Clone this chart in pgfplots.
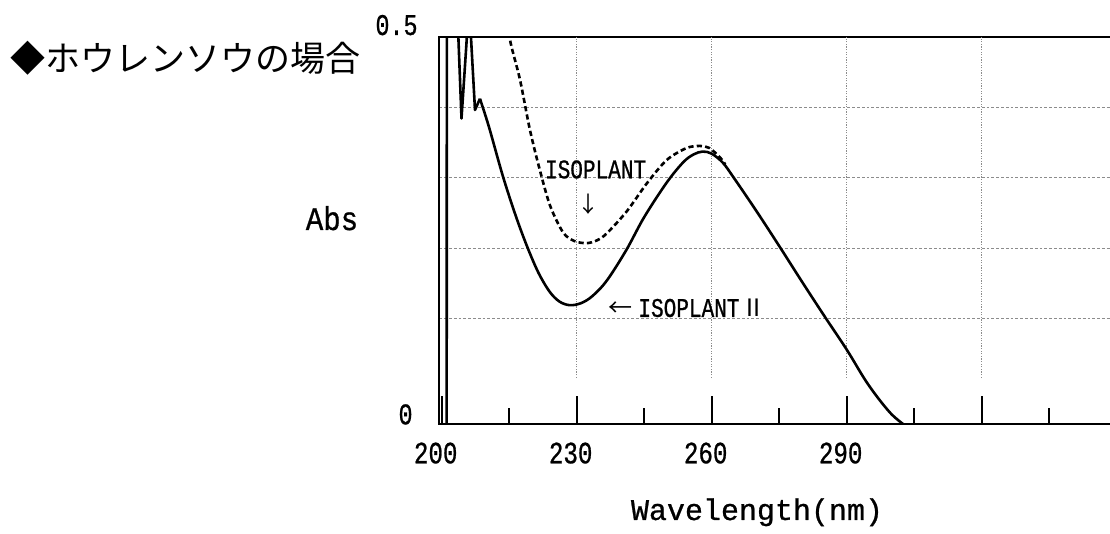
\documentclass[border=0pt]{standalone}
\usepackage{fontspec}
\usepackage{pgfplots}
\pgfplotsset{compat=1.18}
\setmainfont{Liberation Mono}
\newfontfamily\cjkfont{Noto Sans CJK JP}
\newfontfamily\labfont[FakeBold=0.8]{Liberation Mono}
\newfontfamily\absfont[FakeBold=0.8,FakeStretch=0.88]{Liberation Mono}
\newfontfamily\tickfont[FakeStretch=0.78,FakeBold=0.8]{Liberation Mono}

\begin{document}
\begin{tikzpicture}
\useasboundingbox (-219.75pt,-54.85pt) rectangle (335.25pt,212.15pt);
\begin{axis}[
  at={(0pt,0pt)}, anchor=south west,
  scale only axis,
  width=336.8pt, height=193.8pt,
  xmin=199.51, xmax=349.2, ymin=-0.05, ymax=0.5,
  axis line style={line width=1pt},
  xtick={200,230,260,290,320},
  xticklabels={200,230,260,290,},
  minor xtick={215,245,275,305,335},
  xtick pos=left,
  tick align=inside,
  major tick length=14pt,
  minor tick length=8pt,
  xtick style={black, line width=1pt},
  xticklabel style={font=\tickfont\fontsize{15.5pt}{15.5pt}\selectfont, anchor=center, yshift=-14.4pt, xshift=-3pt},
  ytick={0.1,0.2,0.3,0.4},
  yticklabels={},
  ytick style={draw=none},
  ymajorgrids,
  y grid style={black!45, line width=0.5pt, dash pattern=on 1.4pt off 1pt},
  clip=true,
]
\draw[black!45, line width=0.6pt, dash pattern=on 0.6pt off 0.7pt] (axis cs:230,0.016) -- (axis cs:230,0.5);
\draw[black!45, line width=0.6pt, dash pattern=on 0.6pt off 0.7pt] (axis cs:260,0.016) -- (axis cs:260,0.5);
\draw[black!45, line width=0.6pt, dash pattern=on 0.6pt off 0.7pt] (axis cs:290,0.016) -- (axis cs:290,0.5);
\draw[black!45, line width=0.6pt, dash pattern=on 0.6pt off 0.7pt] (axis cs:320,0.016) -- (axis cs:320,0.5);

% ISOPLANT II (solid): sharp part near 200 nm
\addplot[black, line width=1.3pt, line join=round] coordinates {
(201.1,-0.06) (201.15,0.56) (203.5,0.56) (203.7,0.5) (204.4,0.384) (205.6,0.5)
(205.8,0.56) (206.3,0.56) (206.5,0.5) (207.4,0.396) (208.5,0.412)
};
% ISOPLANT II (solid): smooth part
\addplot[black, line width=1.3pt, smooth, tension=0.55] coordinates {
(208.5,0.412) (210.5,0.372) (213.6,0.302) (216.5,0.245) (219,0.202) (221.5,0.165)
(224,0.138) (226.2,0.124) (228.5,0.119) (231,0.122) (233.5,0.132) (236.7,0.154)
(241,0.197) (245,0.244) (250,0.293) (253.7,0.322) (256,0.333) (258,0.337)
(260,0.334) (262.5,0.321) (265,0.299) (270,0.252) (275,0.203) (280,0.153)
(285,0.104) (290,0.056) (294,0.014) (297,-0.013) (300,-0.036) (302.6,-0.05)
};
% ISOPLANT (dashed)
\addplot[black, line width=1.3pt, dash pattern=on 2.6pt off 1.6pt, smooth, tension=0.5] coordinates {
(214.9,0.53) (215.2,0.495) (217.4,0.439) (219.6,0.368) (221.8,0.311) (224.1,0.260)
(227,0.222) (229.5,0.210) (232.2,0.207) (234.5,0.211) (236.7,0.221) (241.1,0.252)
(245.6,0.292) (250,0.325) (254.4,0.342) (257.4,0.345) (259.5,0.342) (261.8,0.329)
(263,0.319)
};

\node[anchor=base, inner sep=0pt, font=\tickfont\fontsize{13.5pt}{13.5pt}\selectfont] at (axis cs:234.2,0.299) {ISOPLANT};
\node[inner sep=0pt, font=\cjkfont\fontsize{11pt}{11pt}\selectfont] at (axis cs:232.7,0.2627) {↓};
\node[anchor=base west, inner sep=0pt] at (axis cs:236.96,0.1024)
  {{\cjkfont\fontsize{12pt}{12pt}\selectfont ←}\hspace{3pt}{\tickfont\fontsize{13.5pt}{13.5pt}\selectfont ISOPLANT}\hspace{1pt}{\cjkfont\fontsize{12pt}{12pt}\selectfont Ⅱ}};
\end{axis}

\node[anchor=west, inner sep=0pt, font=\cjkfont\fontsize{17.5pt}{17.5pt}\selectfont] at (-214.75pt,183.15pt) {◆ホウレンソウの場合};
\node[anchor=base, inner sep=0pt, font=\absfont\fontsize{16.5pt}{16.5pt}\selectfont] at (-53.75pt,97.15pt) {Abs};
\node[anchor=base, inner sep=0pt, font=\labfont\fontsize{15pt}{15pt}\selectfont] at (158.75pt,-47.85pt) {Wavelength(nm)};
\node[anchor=base east, inner sep=0pt, font=\tickfont\fontsize{15pt}{15pt}\selectfont] at (-13.25pt,0pt) {0};
\node[anchor=base east, inner sep=0pt, font=\tickfont\fontsize{15pt}{15pt}\selectfont] at (-10.75pt,194.65pt) {0.5};
\end{tikzpicture}
\end{document}
